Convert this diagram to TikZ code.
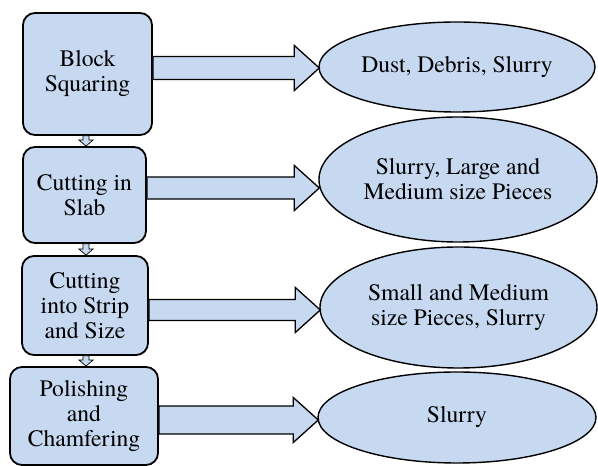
\documentclass[tikz,border=0pt]{standalone}
\usepackage{fontspec}
\IfFontExistsTF{texgyretermes-regular.otf}
  {\newfontfamily\labelfont{texgyretermes-regular.otf}}
  {\newcommand\labelfont{\rmfamily}}
\usepackage{xcolor}
\usepackage{tikz}
\usetikzlibrary{calc, shapes.geometric}
\definecolor{stageblue}{HTML}{C6D9F1}

\tikzset{
  stage/.style={fill=stageblue, draw=black, line width=1.8pt, rounded corners=12pt,
                align=center, inner sep=0pt, font=\labelfont\fontsize{23.6}{25}\selectfont},
  waste/.style={ellipse, fill=stageblue, draw=black, line width=1.4pt,
                align=center, inner xsep=-10pt, inner ysep=0pt, font=\labelfont\fontsize{23.6}{25}\selectfont},
  fatarrow/.style={fill=stageblue, draw=black, line width=1.3pt, line join=miter},
}

\begin{document}
\begin{tikzpicture}[x=1pt, y=1pt]
    \useasboundingbox (0,0) rectangle (598,466);

    % process steps
    \node[stage, minimum width=129pt, minimum height=122pt] (b1) at (87.5,392) {Block\\Squaring};
    \node[stage, minimum width=123pt, minimum height=96pt] (b2) at (84.5,271) {Cutting in\\Slab};
    \node[stage, minimum width=126pt, minimum height=99pt] (b3) at (85,160.5) {Cutting\\into Strip\\and Size};
    \node[stage, minimum width=148pt, minimum height=98pt] (b4) at (84,50) {Polishing\\and\\Chamfering};

    % waste products
    \node[waste, minimum width=276pt, minimum height=90pt] (e1) at (457,399) {Dust, Debris, Slurry};
    \node[waste, minimum width=278pt, minimum height=125pt] (e2) at (458,286.5) {Slurry, Large and\\Medium size Pieces};
    \node[waste, minimum width=277pt, minimum height=121pt] (e3) at (458.5,158.5) {Small and Medium\\size Pieces, Slurry};
    \node[waste, minimum width=278pt, minimum height=91pt] (e4) at (457,48.5) {Slurry};

    % wide arrows to the waste
    \foreach \b/\e/\ay/\sw in {b1/e1/398/11.5, b2/e2/278/11, b3/e3/156/10.5, b4/e4/46/14}
      \draw[fatarrow] let \p1=(\b.east), \p2=(\e.west) in
        (\x1,\ay+\sw) -- (\x2-24,\ay+\sw) -- (\x2-24,\ay+22.5) -- (\x2+1,\ay)
        -- (\x2-24,\ay-22.5) -- (\x2-24,\ay-\sw) -- (\x1,\ay-\sw) -- cycle;

    % small arrows between the steps
    \foreach \a/\c in {b1/b2, b2/b3, b3/b4}
      \draw[fill=stageblue, draw=black, line width=0.7pt] let \p1=(\a.south), \p2=(\c.north) in
        (86-3,\y1) -- (86+3,\y1) -- (86+3,\y2+6) -- (86+7,\y2+6) -- (86,\y2)
        -- (86-7,\y2+6) -- (86-3,\y2+6) -- cycle;
  \end{tikzpicture}
\end{document}
